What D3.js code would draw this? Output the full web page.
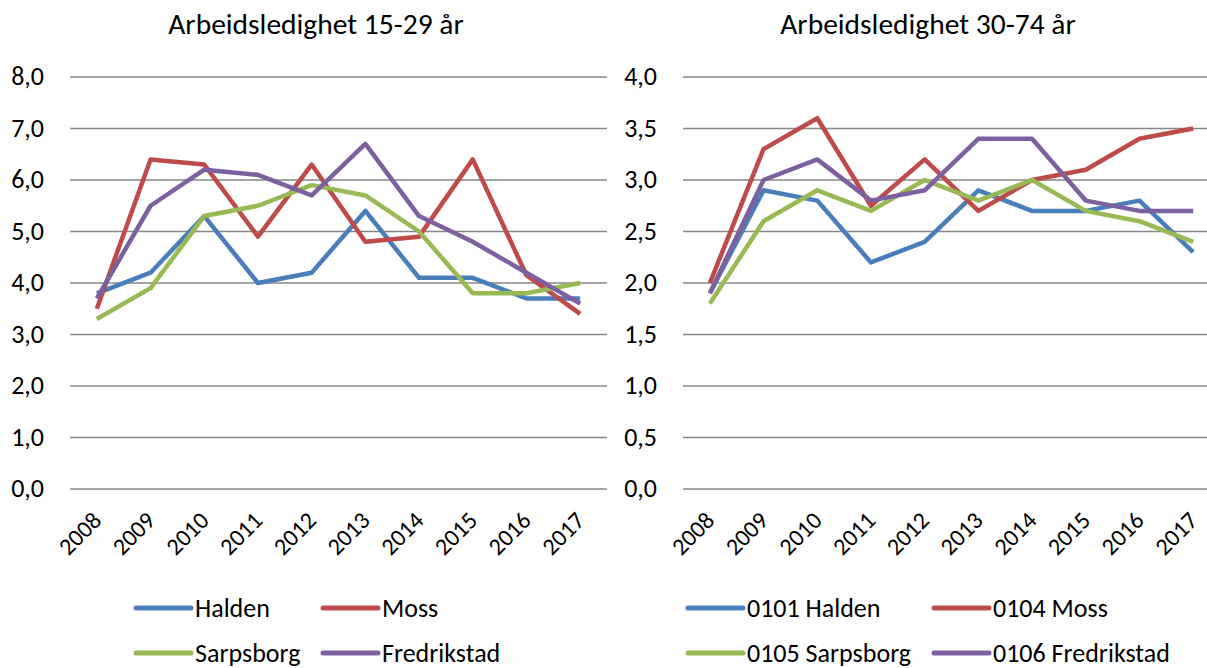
<!DOCTYPE html>
<html>
<head>
<meta charset="utf-8">
<script src="https://cdn.jsdelivr.net/npm/d3@7"></script>
<style>
  body { margin: 0; background: #fff; overflow: hidden; }
  svg { font-family: Carlito, Lato, "Open Sans", sans-serif; fill: #000; }
  .grid line { stroke: #878787; stroke-width: 1.6; }
</style>
</head>
<body>
<svg id="chart" width="1207" height="668"></svg>
<script>
var years = ["2008","2009","2010","2011","2012","2013","2014","2015","2016","2017"];

// Arbeidsledighet 15-29 år
var young_halden = [3.8, 4.2, 5.3, 4.0, 4.2, 5.4, 4.1, 4.1, 3.7, 3.7];
var young_moss = [3.5, 6.4, 6.3, 4.9, 6.3, 4.8, 4.9, 6.4, 4.15, 3.4];
var young_sarpsborg = [3.3, 3.9, 5.3, 5.5, 5.9, 5.7, 5.0, 3.8, 3.8, 4.0];
var young_fredrikstad = [3.7, 5.5, 6.2, 6.1, 5.7, 6.7, 5.3, 4.8, 4.2, 3.6];

// Arbeidsledighet 30-74 år
var adult_halden = [1.9, 2.9, 2.8, 2.2, 2.4, 2.9, 2.7, 2.7, 2.8, 2.3];
var adult_moss = [2.0, 3.3, 3.6, 2.75, 3.2, 2.7, 3.0, 3.1, 3.4, 3.5];
var adult_sarpsborg = [1.8, 2.6, 2.9, 2.7, 3.0, 2.8, 3.0, 2.7, 2.6, 2.4];
var adult_fredrikstad = [1.9, 3.0, 3.2, 2.8, 2.9, 3.4, 3.4, 2.8, 2.7, 2.7];

var young_ticks = [0,1,2,3,4,5,6,7,8];
var adult_ticks = [0,0.5,1,1.5,2,2.5,3,3.5,4];

var colors = ["#4a7ebb", "#be4b48", "#98b954", "#7d60a0"];

var svg = d3.select("svg#chart");
var fmt = function(d) { return d3.format(".1f")(d).replace(".", ","); };

function drawChart(opts) {
  var g = svg.append("g");

  var x = d3.scaleBand().domain(years).range([opts.x0, opts.x1]);
  var y = d3.scaleLinear().domain([0, opts.max]).range([489, 77]);

  // title
  g.append("text")
    .attr("x", opts.titleX).attr("y", 34)
    .attr("text-anchor", "middle")
    .style("font-size", "29.5px")
    .text(opts.title);

  // gridlines
  g.append("g").attr("class", "grid")
    .selectAll("line").data(opts.ticks).enter().append("line")
    .attr("x1", opts.x0).attr("x2", opts.x1)
    .attr("y1", function(d) { return y(d); })
    .attr("y2", function(d) { return y(d); });

  // y labels
  g.append("g").selectAll("text").data(opts.ticks).enter().append("text")
    .attr("x", opts.x0 - 26)
    .attr("y", function(d) { return y(d) + 8; })
    .attr("text-anchor", "end")
    .style("font-size", "26px")
    .text(fmt);

  // x labels, rotated
  g.append("g").selectAll("text").data(years).enter().append("text")
    .attr("text-anchor", "end")
    .attr("transform", function(d) {
      return "translate(" + (x(d) + x.bandwidth()/2 + 6) + ",522) rotate(-45)";
    })
    .style("font-size", "24px")
    .text(function(d) { return d; });

  var line = d3.line()
    .x(function(d, i) { return x(years[i]) + x.bandwidth()/2; })
    .y(function(d) { return y(d); });

  g.append("g").selectAll("path").data(opts.series).enter().append("path")
    .attr("d", function(d) { return line(d.values); })
    .attr("fill", "none")
    .attr("stroke", function(d, i) { return colors[i]; })
    .attr("stroke-width", 4.5)
    .attr("stroke-linejoin", "round");

  // legend, 2 x 2
  var leg = g.append("g").selectAll("g").data(opts.series).enter().append("g")
    .attr("transform", function(d, i) {
      return "translate(" + opts.legX[i % 2] + "," + (i < 2 ? 608 : 653) + ")";
    });
  leg.append("line")
    .attr("x1", 0).attr("x2", 55)
    .attr("stroke", function(d, i) { return colors[i]; })
    .attr("stroke-width", 5)
    .attr("stroke-linecap", "round");
  leg.append("text")
    .attr("x", 59).attr("y", 9)
    .style("font-size", "26px")
    .text(function(d) { return d.name; });
}

drawChart({
  title: "Arbeidsledighet 15-29 år",
  titleX: 316,
  x0: 70, x1: 607, max: 8,
  ticks: young_ticks,
  legX: [136, 323],
  series: [
    {name: "Halden", values: young_halden},
    {name: "Moss", values: young_moss},
    {name: "Sarpsborg", values: young_sarpsborg},
    {name: "Fredrikstad", values: young_fredrikstad}
  ]
});

drawChart({
  title: "Arbeidsledighet 30-74 år",
  titleX: 928,
  x0: 683, x1: 1220, max: 4,
  ticks: adult_ticks,
  legX: [688, 934],
  series: [
    {name: "0101 Halden", values: adult_halden},
    {name: "0104 Moss", values: adult_moss},
    {name: "0105 Sarpsborg", values: adult_sarpsborg},
    {name: "0106 Fredrikstad", values: adult_fredrikstad}
  ]
});
</script>
</body>
</html>
